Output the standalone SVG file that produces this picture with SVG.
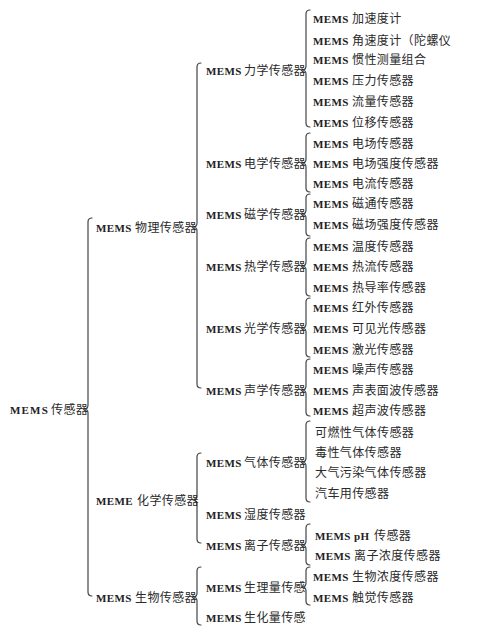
<svg xmlns="http://www.w3.org/2000/svg" width="492" height="639" viewBox="0 0 492 639">
<style>
text { fill: #2a2a2a; font-family: "Liberation Serif", "Noto Sans CJK SC", serif; font-size: 12px; letter-spacing: 0.4px; }
.m { font-family: "Liberation Serif", serif; font-weight: bold; font-size: 11px; letter-spacing: 0.4px; fill: #222; }
.mr { font-family: "Liberation Serif", serif; font-weight: bold; font-size: 11px; letter-spacing: 1.2px; fill: #222; }
.b { fill: none; stroke: #444; stroke-width: 1.2; stroke-linecap: round; stroke-linejoin: round; }
</style>
<rect width="492" height="639" fill="#ffffff"/>
<g id="connectors">
<path class="b" d="M92,218 Q88,218 88,222 V405 Q88,409 84,409 Q88,409 88,413 V592 Q88,596 92,596"/>
<path class="b" d="M201,63 Q197,63 197,67 V223 Q197,227 193,227 Q197,227 197,231 V384 Q197,388 201,388"/>
<path class="b" d="M201,453 Q197,453 197,457 V496 Q197,500 193,500 Q197,500 197,504 V539 Q197,543 201,543"/>
<path class="b" d="M201,567 Q197,567 197,571 V593 Q197,597 193,597 Q197,597 197,601 V621 Q197,625 201,625"/>
<path class="b" d="M310,10 Q306,10 306,14 V66 Q306,70 302,70 Q306,70 306,74 V123 Q306,127 310,127"/>
<path class="b" d="M310,133 Q306,133 306,137 V159 Q306,163 302,163 Q306,163 306,167 V188 Q306,192 310,192"/>
<path class="b" d="M310,194 Q306,194 306,198 V210 Q306,214 302,214 Q306,214 306,218 V232 Q306,236 310,236"/>
<path class="b" d="M310,238 Q306,238 306,242 V262 Q306,266 302,266 Q306,266 306,270 V292 Q306,296 310,296"/>
<path class="b" d="M310,298 Q306,298 306,302 V324 Q306,328 302,328 Q306,328 306,332 V353 Q306,357 310,357"/>
<path class="b" d="M310,359 Q306,359 306,363 V386 Q306,390 302,390 Q306,390 306,394 V412 Q306,416 310,416"/>
<path class="b" d="M310,421 Q306,421 306,425 V458 Q306,462 302,462 Q306,462 306,466 V498 Q306,502 310,502"/>
<path class="b" d="M310,524 Q306,524 306,528 V541 Q306,545 302,545 Q306,545 306,549 V561 Q306,565 310,565"/>
<path class="b" d="M310,567 Q306,567 306,571 V583 Q306,587 302,587 Q306,587 306,591 V601 Q306,605 310,605"/>
</g>
<g id="root"><text y="413.5"><tspan class="mr" x="10">MEMS</tspan><tspan x="51">传感器</tspan></text></g>
<g id="physical"><text y="231.5"><tspan class="m" x="96">MEMS</tspan><tspan x="135">物理传感器</tspan></text></g>
<g id="chemical"><text y="504.5"><tspan class="m" x="96">MEME</tspan><tspan x="137">化学传感器</tspan></text></g>
<g id="biological"><text y="601.5"><tspan class="m" x="96">MEMS</tspan><tspan x="135">生物传感器</tspan></text></g>
<g id="mechanical"><text y="74.5"><tspan class="m" x="206">MEMS</tspan><tspan x="244">力学传感器</tspan></text></g>
<g id="electrical"><text y="167.5"><tspan class="m" x="206">MEMS</tspan><tspan x="244">电学传感器</tspan></text></g>
<g id="magnetic"><text y="218.5"><tspan class="m" x="206">MEMS</tspan><tspan x="244">磁学传感器</tspan></text></g>
<g id="thermal"><text y="270.5"><tspan class="m" x="206">MEMS</tspan><tspan x="244">热学传感器</tspan></text></g>
<g id="optical"><text y="332.5"><tspan class="m" x="206">MEMS</tspan><tspan x="244">光学传感器</tspan></text></g>
<g id="acoustic"><text y="394.5"><tspan class="m" x="206">MEMS</tspan><tspan x="244">声学传感器</tspan></text></g>
<g id="gas"><text y="466.5"><tspan class="m" x="206">MEMS</tspan><tspan x="244">气体传感器</tspan></text></g>
<g id="humidity"><text y="518.5"><tspan class="m" x="206">MEMS</tspan><tspan x="244">湿度传感器</tspan></text></g>
<g id="ion"><text y="549.5"><tspan class="m" x="206">MEMS</tspan><tspan x="244">离子传感器</tspan></text></g>
<g id="physiological"><text y="591.5"><tspan class="m" x="206">MEMS</tspan><tspan x="244">生理量传感</tspan></text></g>
<g id="biochemical"><text y="621.5"><tspan class="m" x="206">MEMS</tspan><tspan x="244">生化量传感</tspan></text></g>
<g id="accelerometer"><text y="22.5"><tspan class="m" x="313">MEMS</tspan><tspan x="352">加速度计</tspan></text></g>
<g id="gyroscope"><text y="44.5"><tspan class="m" x="313">MEMS</tspan><tspan x="352">角速度计（陀螺仪</tspan></text></g>
<g id="imu"><text y="63.5"><tspan class="m" x="313">MEMS</tspan><tspan x="352">惯性测量组合</tspan></text></g>
<g id="pressure"><text y="84.5"><tspan class="m" x="313">MEMS</tspan><tspan x="352">压力传感器</tspan></text></g>
<g id="flow"><text y="105.5"><tspan class="m" x="313">MEMS</tspan><tspan x="352">流量传感器</tspan></text></g>
<g id="displacement"><text y="126.5"><tspan class="m" x="313">MEMS</tspan><tspan x="352">位移传感器</tspan></text></g>
<g id="efield"><text y="147.5"><tspan class="m" x="313">MEMS</tspan><tspan x="352">电场传感器</tspan></text></g>
<g id="efield-strength"><text y="167.5"><tspan class="m" x="313">MEMS</tspan><tspan x="352">电场强度传感器</tspan></text></g>
<g id="current"><text y="187.5"><tspan class="m" x="313">MEMS</tspan><tspan x="352">电流传感器</tspan></text></g>
<g id="flux"><text y="207.5"><tspan class="m" x="313">MEMS</tspan><tspan x="352">磁通传感器</tspan></text></g>
<g id="mfield-strength"><text y="228.5"><tspan class="m" x="313">MEMS</tspan><tspan x="352">磁场强度传感器</tspan></text></g>
<g id="temperature"><text y="250.5"><tspan class="m" x="313">MEMS</tspan><tspan x="352">温度传感器</tspan></text></g>
<g id="heatflow"><text y="270.5"><tspan class="m" x="313">MEMS</tspan><tspan x="352">热流传感器</tspan></text></g>
<g id="conductivity"><text y="291.5"><tspan class="m" x="313">MEMS</tspan><tspan x="352">热导率传感器</tspan></text></g>
<g id="infrared"><text y="311.5"><tspan class="m" x="313">MEMS</tspan><tspan x="352">红外传感器</tspan></text></g>
<g id="visible"><text y="332.5"><tspan class="m" x="313">MEMS</tspan><tspan x="352">可见光传感器</tspan></text></g>
<g id="laser"><text y="353.5"><tspan class="m" x="313">MEMS</tspan><tspan x="352">激光传感器</tspan></text></g>
<g id="noise"><text y="373.5"><tspan class="m" x="313">MEMS</tspan><tspan x="352">噪声传感器</tspan></text></g>
<g id="saw"><text y="394.5"><tspan class="m" x="313">MEMS</tspan><tspan x="352">声表面波传感器</tspan></text></g>
<g id="ultrasonic"><text y="414.5"><tspan class="m" x="313">MEMS</tspan><tspan x="352">超声波传感器</tspan></text></g>
<g id="combustible"><text x="315" y="436.5">可燃性气体传感器</text></g>
<g id="toxic"><text x="315" y="456.5">毒性气体传感器</text></g>
<g id="pollution"><text x="315" y="476.5">大气污染气体传感器</text></g>
<g id="automotive"><text x="315" y="497.5">汽车用传感器</text></g>
<g id="ph"><text y="539.5"><tspan class="m" x="315">MEMS</tspan><tspan class="m" x="354">pH</tspan><tspan x="374">传感器</tspan></text></g>
<g id="ion-concentration"><text y="559.5"><tspan class="m" x="315">MEMS</tspan><tspan x="354">离子浓度传感器</tspan></text></g>
<g id="bio-concentration"><text y="580.5"><tspan class="m" x="313">MEMS</tspan><tspan x="352">生物浓度传感器</tspan></text></g>
<g id="tactile"><text y="601.5"><tspan class="m" x="313">MEMS</tspan><tspan x="352">触觉传感器</tspan></text></g>
</svg>
